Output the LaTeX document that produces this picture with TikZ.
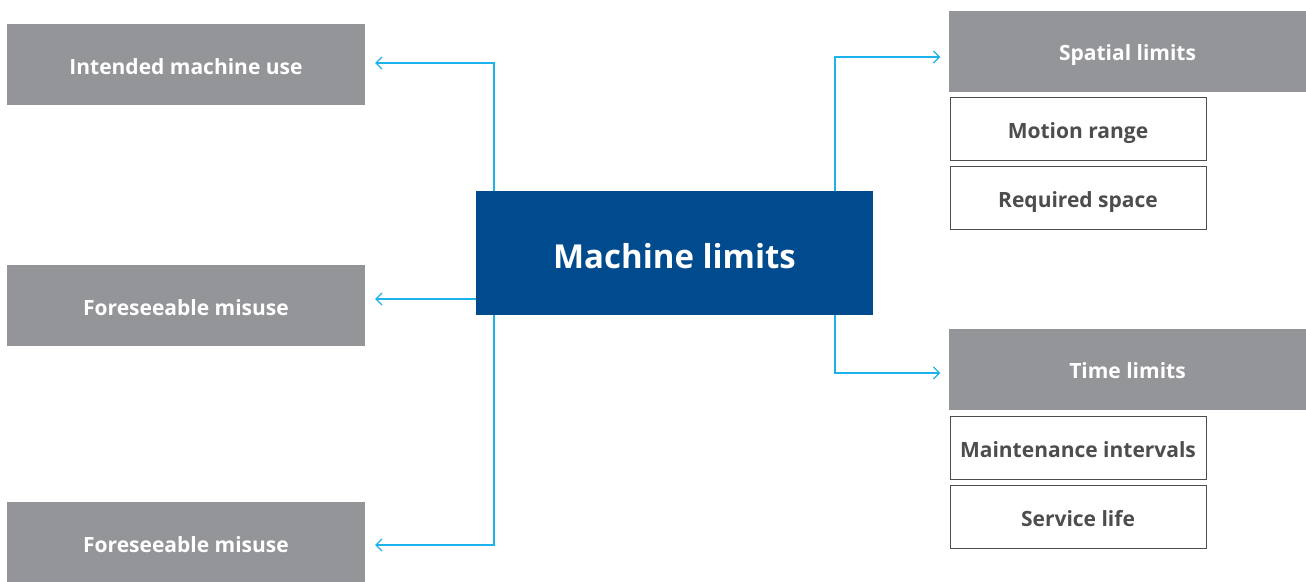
\documentclass[tikz,border=0pt]{standalone}
\usepackage{fontspec}
\setmainfont{Open Sans}
\usepackage{xcolor}
\usetikzlibrary{positioning,arrows.meta}
\definecolor{limitgray}{HTML}{939598}
\definecolor{limitblue}{HTML}{004A8E}
\definecolor{linkcyan}{HTML}{1CB3EA}
\definecolor{textgray}{HTML}{4D4D4F}
\tikzset{
graybox/.style={fill=limitgray, text=white, minimum width=358pt, minimum height=81pt, inner sep=0pt, text height=21pt, text depth=1.7pt, font=\fontsize{21}{25}\selectfont\bfseries},
whitebox/.style={draw=textgray, fill=white, line width=1pt, text=textgray, minimum width=256pt, minimum height=63pt, inner sep=0pt, text height=21pt, text depth=1.7pt, font=\fontsize{21}{25}\selectfont\bfseries},
mainbox/.style={fill=limitblue, text=white, minimum width=397pt, minimum height=124pt, inner sep=0pt, text height=33pt, text depth=2.6pt, font=\fontsize{33}{39}\selectfont\bfseries},
link/.style={draw=linkcyan, line width=1.2pt, -{Straight Barb[length=6pt,width=12pt]}}
}

\begin{document}
\begin{tikzpicture}[x=1pt,y=-1pt]
  \useasboundingbox (0,0) rectangle (1306,581);
  \node[mainbox] (ml) at (674.5,253) {Machine limits};
  \node[graybox] (use) at (186,64.5) {Intended machine use};
  \node[graybox] (mis1) at (186,305.5) {Foreseeable misuse};
  \node[graybox] (mis2) at (186,542.5) {Foreseeable misuse};
  \node[graybox] (space) at (1127.5,51) {Spatial limits};
  \node[graybox] (time) at (1127.5,369) {Time limits};
  \node[whitebox] (motion) at (1078,129) {Motion range};
  \node[whitebox] (req) at (1078,198) {Required space};
  \node[whitebox] (maint) at (1078,447.5) {Maintenance intervals};
  \node[whitebox] (life) at (1078,516.5) {Service life};
  \coordinate (lt) at (494,191);
  \coordinate (lb) at (494,315);
  \coordinate (rt) at (835,191);
  \coordinate (rb) at (835,315);
  \draw[link] (lt) |- ([xshift=10pt,yshift=1.5pt]use.east);
  \draw[link] (ml.west |- 0,299) -- ([xshift=10pt]mis1.east |- 0,299);
  \draw[link] (lb) |- ([xshift=10pt,yshift=-2.5pt]mis2.east);
  \draw[link] (rt) |- ([xshift=-8pt,yshift=-6pt]space.west);
  \draw[link] (rb) |- ([xshift=-8pt,yshift=-4pt]time.west);
\end{tikzpicture}
\end{document}
